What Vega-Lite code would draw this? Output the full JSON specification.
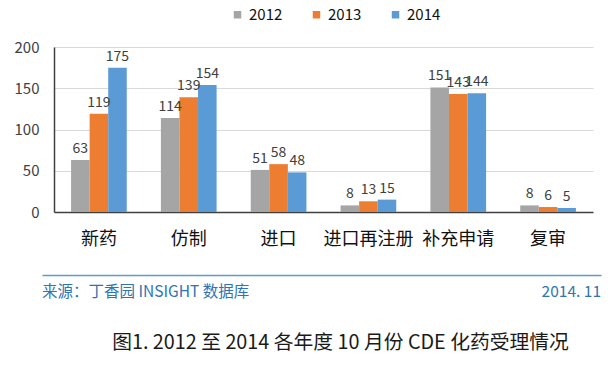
{
  "$schema": "https://vega.github.io/schema/vega-lite/v6.json",
  "padding": {"left": 14, "top": 7, "right": 6, "bottom": 12},
  "background": "white",
  "config": {
    "font": "Noto Sans CJK SC",
    "view": {"stroke": null},
    "concat": {"spacing": 27}
  },
  "title": {
    "text": "图1. 2012 至 2014 各年度 10 月份 CDE 化药受理情况",
    "orient": "bottom",
    "anchor": "middle",
    "fontSize": 19.8,
    "fontWeight": "normal",
    "color": "#1a1a1a",
    "offset": 24,
    "dx": 27,
    "limit": 600
  },
  "datasets": {
    "bars": [
      {"category": "新药", "year": "2012", "value": 63},
      {"category": "新药", "year": "2013", "value": 119},
      {"category": "新药", "year": "2014", "value": 175},
      {"category": "仿制", "year": "2012", "value": 114},
      {"category": "仿制", "year": "2013", "value": 139},
      {"category": "仿制", "year": "2014", "value": 154},
      {"category": "进口", "year": "2012", "value": 51},
      {"category": "进口", "year": "2013", "value": 58},
      {"category": "进口", "year": "2014", "value": 48},
      {"category": "进口再注册", "year": "2012", "value": 8},
      {"category": "进口再注册", "year": "2013", "value": 13},
      {"category": "进口再注册", "year": "2014", "value": 15},
      {"category": "补充申请", "year": "2012", "value": 151},
      {"category": "补充申请", "year": "2013", "value": 143},
      {"category": "补充申请", "year": "2014", "value": 144},
      {"category": "复审", "year": "2012", "value": 8},
      {"category": "复审", "year": "2013", "value": 6},
      {"category": "复审", "year": "2014", "value": 5}
    ],
    "footer": [
      {"pos": 0, "label": "来源：丁香园 INSIGHT 数据库"},
      {"pos": 1, "label": "2014. 11"}
    ]
  },
  "vconcat": [
    {
      "width": 539,
      "height": 165,
      "data": {"name": "bars"},
      "encoding": {
        "x": {
          "field": "category",
          "type": "nominal",
          "sort": ["新药", "仿制", "进口", "进口再注册", "补充申请", "复审"],
          "scale": {"paddingInner": 0.38, "paddingOuter": 0.19},
          "axis": {
            "title": null,
            "labelAngle": 0,
            "labelFontSize": 18,
            "labelColor": "#111111",
            "ticks": false,
            "labelPadding": 18,
            "domainColor": "#404040",
            "domainWidth": 1.5
          }
        },
        "xOffset": {"field": "year", "type": "nominal", "sort": ["2012", "2013", "2014"]},
        "y": {
          "field": "value",
          "type": "quantitative",
          "scale": {"domain": [0, 200]},
          "axis": {
            "title": null,
            "values": [0, 50, 100, 150, 200],
            "ticks": false,
            "labelPadding": 15,
            "labelFontSize": 15,
            "labelColor": "#404040",
            "gridColor": "#D9D9D9",
            "domainColor": "#404040",
            "domainWidth": 1.5
          }
        }
      },
      "layer": [
        {
          "mark": {"type": "bar"},
          "encoding": {
            "color": {
              "field": "year",
              "type": "nominal",
              "scale": {"domain": ["2012", "2013", "2014"], "range": ["#A5A5A5", "#ED7D31", "#5B9BD5"]},
              "legend": {
                "title": null,
                "orient": "none",
                "legendX": 176,
                "legendY": -40,
                "direction": "horizontal",
                "symbolType": "square",
                "symbolSize": 56,
                "symbolStrokeWidth": 0,
                "labelFontSize": 15,
                "labelColor": "#111111",
                "columnPadding": 26
              }
            }
          }
        },
        {
          "mark": {"type": "text", "baseline": "alphabetic", "dy": -7, "fontSize": 14, "color": "#404040"},
          "encoding": {"text": {"field": "value", "type": "quantitative"}}
        }
      ]
    },
    {
      "width": 547,
      "height": 34,
      "data": {"name": "footer"},
      "encoding": {
        "x": {
          "field": "pos",
          "type": "quantitative",
          "scale": {"domain": [0, 1], "range": [-12, 547]},
          "axis": {
            "orient": "top",
            "title": null,
            "labels": false,
            "ticks": false,
            "grid": false,
            "domainColor": "#5B9BD5",
            "domainWidth": 1.5
          }
        },
        "text": {"field": "label", "type": "nominal"}
      },
      "layer": [
        {
          "transform": [{"filter": "datum.pos == 0"}],
          "mark": {"type": "text", "align": "left", "baseline": "middle", "fontSize": 15.5, "color": "#2E75B6"}
        },
        {
          "transform": [{"filter": "datum.pos == 1"}],
          "mark": {"type": "text", "align": "right", "baseline": "middle", "fontSize": 15.5, "color": "#2E75B6"}
        }
      ]
    }
  ]
}
